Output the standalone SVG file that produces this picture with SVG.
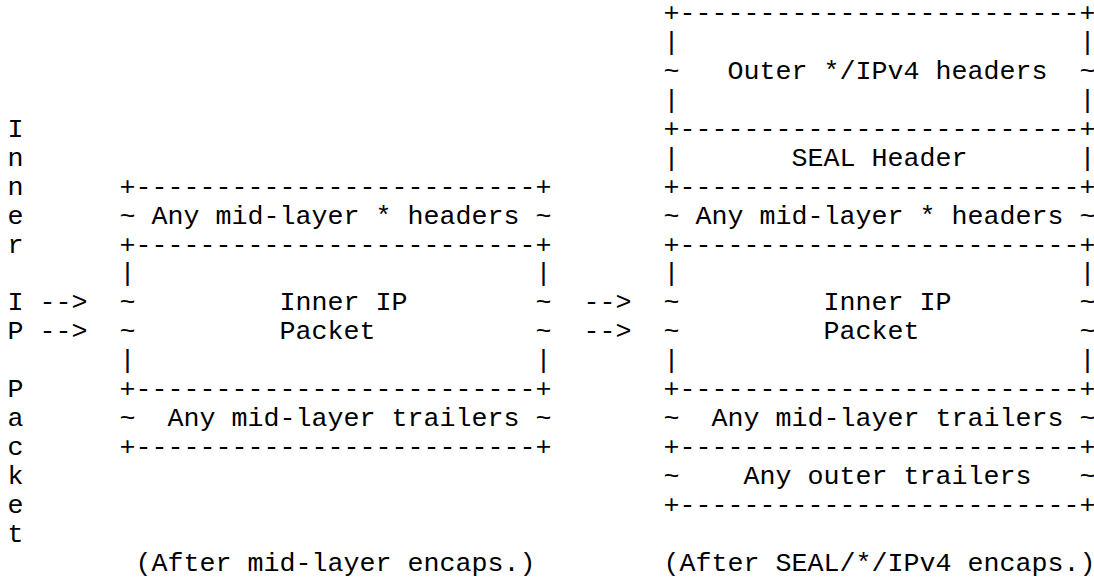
<svg xmlns="http://www.w3.org/2000/svg" width="1094" height="585" viewBox="0 0 1094 585">
<style>
text{font-family:"Liberation Mono","Courier New",monospace;font-size:26.667px;fill:#000;white-space:pre}
</style>
<rect width="1094" height="585" fill="#fff"/>
<g id="inner-ip-packet-label" xml:space="preserve">
<text x="7.5" y="136.7">I</text>
<text x="7.5" y="165.65">n</text>
<text x="7.5" y="194.6">n</text>
<text x="7.5" y="223.55">e</text>
<text x="7.5" y="252.5">r</text>
<text x="7.5" y="310.4">I</text>
<text x="7.5" y="339.35">P</text>
<text x="7.5" y="397.25">P</text>
<text x="7.5" y="426.2">a</text>
<text x="7.5" y="455.15">c</text>
<text x="7.5" y="484.1">k</text>
<text x="7.5" y="513.05">e</text>
<text x="7.5" y="542">t</text>
</g>
<g id="connectors" xml:space="preserve">
<text x="39.5" y="310.4">--&gt;</text>
<text x="39.5" y="339.35">--&gt;</text>
<text x="583.5" y="310.4">--&gt;</text>
<text x="583.5" y="339.35">--&gt;</text>
</g>
<g id="mid-layer-encaps" xml:space="preserve">
<text x="119.5" y="194.6">+-------------------------+</text>
<text x="119.5" y="223.55">~ Any mid-layer * headers ~</text>
<text x="119.5" y="252.5">+-------------------------+</text>
<text x="119.5" y="281.45">|                         |</text>
<text x="119.5" y="310.4">~         Inner IP        ~</text>
<text x="119.5" y="339.35">~         Packet          ~</text>
<text x="119.5" y="368.3">|                         |</text>
<text x="119.5" y="397.25">+-------------------------+</text>
<text x="119.5" y="426.2">~  Any mid-layer trailers ~</text>
<text x="119.5" y="455.15">+-------------------------+</text>
</g>
<g id="seal-ipv4-encaps" xml:space="preserve">
<text x="663.5" y="20.9">+-------------------------+</text>
<text x="663.5" y="49.85">|                         |</text>
<text x="663.5" y="78.8">~   Outer */IPv4 headers  ~</text>
<text x="663.5" y="107.75">|                         |</text>
<text x="663.5" y="136.7">+-------------------------+</text>
<text x="663.5" y="165.65">|       SEAL Header       |</text>
<text x="663.5" y="194.6">+-------------------------+</text>
<text x="663.5" y="223.55">~ Any mid-layer * headers ~</text>
<text x="663.5" y="252.5">+-------------------------+</text>
<text x="663.5" y="281.45">|                         |</text>
<text x="663.5" y="310.4">~         Inner IP        ~</text>
<text x="663.5" y="339.35">~         Packet          ~</text>
<text x="663.5" y="368.3">|                         |</text>
<text x="663.5" y="397.25">+-------------------------+</text>
<text x="663.5" y="426.2">~  Any mid-layer trailers ~</text>
<text x="663.5" y="455.15">+-------------------------+</text>
<text x="663.5" y="484.1">~    Any outer trailers   ~</text>
<text x="663.5" y="513.05">+-------------------------+</text>
</g>
<g id="captions" xml:space="preserve">
<text x="135.5" y="570.95">(After mid-layer encaps.)</text>
<text x="663.5" y="570.95">(After SEAL/*/IPv4 encaps.)</text>
</g>
</svg>
